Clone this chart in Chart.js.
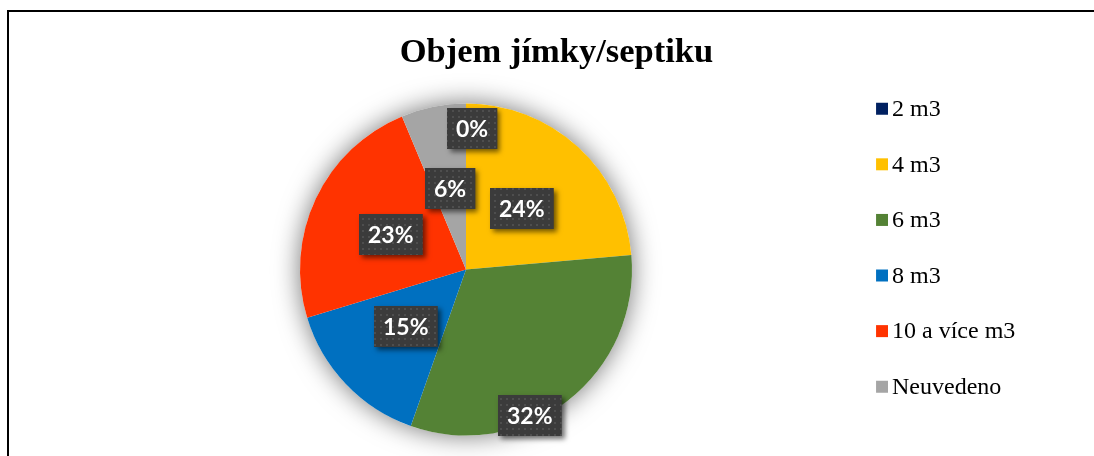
<!DOCTYPE html>
<html>
<head>
<meta charset="utf-8">
<title>Objem jímky/septiku</title>
<script src="https://cdn.jsdelivr.net/npm/chart.js@4.4.1/dist/chart.umd.min.js"></script>
<style>
  html, body { margin: 0; padding: 0; background: #fff; overflow: hidden; }
  #wrap { position: relative; width: 1094px; height: 456px; overflow: hidden; }
  #frame { position: absolute; left: 7px; top: 10px; width: 1200px; height: 600px; border: 2px solid #000; box-sizing: border-box; }
  #chart { position: absolute; left: 0; top: 0; }
</style>
</head>
<body>
<div id="wrap">
  <div id="frame"></div>
  <canvas id="chart" width="1094" height="473"></canvas>
</div>
<script>
'use strict';

// Data
const categories = ['2 m3', '4 m3', '6 m3', '8 m3', '10 a více m3', 'Neuvedeno'];
const shares = [0, 23.6, 31.8, 14.9, 23.4, 6.3];
const sliceColors = ['#002060', '#FFC000', '#548235', '#0070C0', '#FF3300', '#A5A5A5'];

const serif = '"Liberation Serif", "Times New Roman", serif';


// small legend square, drawn a bit right of its slot so the text sits close

function makeSwatch(color) {
  const c = document.createElement('canvas');
  c.width = 20;
  c.height = 16;
  const g = c.getContext('2d');
  g.fillStyle = color;
  g.fillRect(8, 1, 12, 12);
  return c;
}

// dotted dark fill of the data label boxes

function makeDots() {
  const c = document.createElement('canvas');
  c.width = 6;
  c.height = 6;
  const g = c.getContext('2d');
  g.fillStyle = '#3b3b3b';
  g.fillRect(0, 0, 6, 6);
  g.fillStyle = '#4e4e4e';
  g.fillRect(2, 2, 2, 2);
  return c;
}


// Soft glow behind the pie

const pieGlow = {
  id: 'pieGlow',
  beforeDatasetsDraw(chart, args, opts) {
    const arc = chart.getDatasetMeta(0).data[0];
    if (!arc) return;
    const ctx = chart.ctx;
    ctx.save();
    ctx.shadowColor = opts.color;
    ctx.shadowBlur = opts.blur;
    ctx.fillStyle = '#ffffff';
    ctx.beginPath();
    ctx.arc(arc.x, arc.y, arc.outerRadius, 0, Math.PI * 2);
    ctx.fill();
    ctx.restore();
  }
};


// Percent labels in dark boxes

const boxLabels = {
  id: 'boxLabels',
  afterDatasetsDraw(chart, args, opts) {
    const ctx = chart.ctx;
    const meta = chart.getDatasetMeta(0);
    const values = chart.data.datasets[0].data;
    const total = values.reduce(function (a, b) { return a + b; }, 0);
    const pattern = ctx.createPattern(makeDots(), 'repeat');

    ctx.save();
    ctx.font = opts.font;
    ctx.textAlign = 'center';
    ctx.textBaseline = 'middle';

    meta.data.forEach(function (arc, i) {
      const place = opts.placement[i] || { r: 0.5, turn: 0 };
      const mid = (arc.startAngle + arc.endAngle) / 2 + place.turn * Math.PI / 180;
      const dist = arc.outerRadius * place.r;
      const x = arc.x + Math.cos(mid) * dist;
      const y = arc.y + Math.sin(mid) * dist;
      const text = Math.round(values[i] / total * 100) + '%';
      const w = ctx.measureText(text).width + opts.padX * 2;
      const h = opts.height;
      const left = Math.round(x - w / 2);
      const top = Math.round(y - h / 2);

      ctx.save();
      ctx.shadowColor = 'rgba(0, 0, 0, 0.55)';
      ctx.shadowBlur = 5;
      ctx.shadowOffsetX = 3;
      ctx.shadowOffsetY = 3;
      ctx.fillStyle = '#3b3b3b';
      ctx.fillRect(left, top, w, h);
      ctx.restore();

      ctx.fillStyle = pattern;
      ctx.fillRect(left, top, w, h);

      ctx.fillStyle = '#ffffff';
      ctx.fillText(text, left + w / 2, top + h / 2 + 1);
    });

    ctx.restore();
  }
};


// Pie chart

const pieChart = new Chart(document.getElementById('chart'), {
  type: 'pie',
  data: {
    labels: categories,
    datasets: [{
      data: shares,
      backgroundColor: sliceColors,
      borderWidth: 0
    }]
  },
  options: {
    responsive: false,
    animation: false,
    radius: 166,
    layout: {
      padding: { left: 87.6, right: 68.7, top: 0, bottom: 0 }
    },
    plugins: {
      title: {
        display: true,
        text: 'Objem jímky/septiku',
        color: '#000',
        font: { family: serif, size: 34.5, weight: 'bold', lineHeight: 0.72 },
        padding: { top: 40.9, bottom: 0.36 }
      },
      legend: {
        position: 'right',
        align: 'start',
        // empty title only pushes the items down
        title: {
          display: true,
          text: ' ',
          padding: 0,
          font: { size: 10, lineHeight: 6.61 }
        },
        labels: {
          usePointStyle: true,
          pointStyleWidth: 4,
          padding: 31.6,
          color: '#000',
          font: { family: serif, size: 24 },
          generateLabels: function (chart) {
            const items = Chart.overrides.pie.plugins.legend.labels.generateLabels(chart);
            return items.map(function (item) {
              item.pointStyle = makeSwatch(item.fillStyle);
              return item;
            });
          }
        }
      },
      tooltip: { enabled: false },
      pieGlow: { color: 'rgba(0, 0, 0, 0.55)', blur: 26 },
      boxLabels: {
        font: 'bold 23px Lato, "Open Sans", sans-serif',
        padX: 9,
        height: 41,
        placement: [
          { r: 0.85, turn: 2.6 },
          { r: 0.5, turn: 0 },
          { r: 0.958, turn: 14.1 },
          { r: 0.5, turn: 0 },
          { r: 0.5, turn: 0 },
          { r: 0.5, turn: 0 }
        ]
      }
    }
  },
  plugins: [pieGlow, boxLabels]
});
</script>
</body>
</html>
